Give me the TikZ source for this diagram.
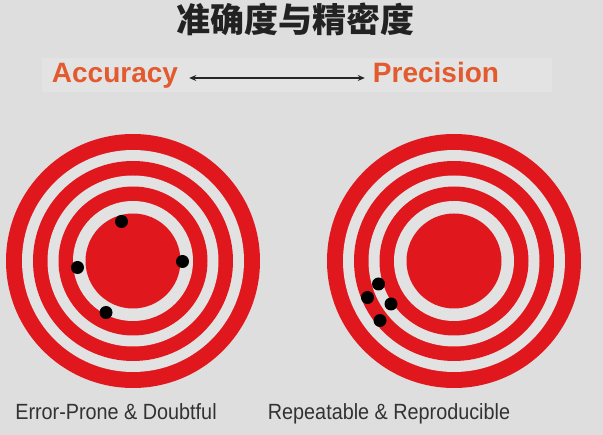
\documentclass[tikz,border=0pt]{standalone}
\usepackage{fontspec}
\usepackage{graphicx}
\setmainfont{Liberation Sans}
\newfontfamily\cjk{Noto Sans CJK SC}
\usetikzlibrary{arrows.meta}
\definecolor{bgc}{RGB}{222,222,222}
\definecolor{bandc}{RGB}{227,227,227}
\definecolor{ringred}{RGB}{224,24,30}
\definecolor{ringgap}{RGB}{226,226,226}
\definecolor{hdr}{RGB}{226,90,45}
\definecolor{ttl}{RGB}{34,34,34}
\definecolor{lbl}{RGB}{50,50,50}
\tikzset{
  redring/.style={fill=ringred, draw=none},
  gapring/.style={fill=ringgap, draw=none},
  hit/.style={fill=black, draw=none},
  header/.style={font=\fontsize{28}{30}\selectfont\bfseries, text=hdr, inner sep=0pt, anchor=base},
  caption/.style={font=\fontsize{22}{24}\selectfont, text=lbl, inner sep=0pt, anchor=base},
  twoway/.style={{Stealth[length=7pt,width=6pt]}-{Stealth[length=7pt,width=6pt]}, line width=2.2pt, draw=black!85}
}
\newcommand{\target}[2]{%
  \fill[redring] (#1,#2) circle (127);
  \fill[gapring] (#1,#2) circle (111);
  \fill[redring] (#1,#2) circle (100);
  \fill[gapring] (#1,#2) circle (85.5);
  \fill[redring] (#1,#2) circle (74.5);
  \fill[gapring] (#1,#2) circle (60);
  \fill[redring] (#1,#2) circle (47.5);
}
\begin{document}
\begin{tikzpicture}[x=1pt,y=-1pt]
  \fill[bgc] (0,0) rectangle (603,435);
  \useasboundingbox (0,0) rectangle (603,435);
  \fill[bandc] (42,58) rectangle (552,92);
  \node[font=\fontsize{34}{36}\selectfont\cjk\bfseries, text=ttl, inner sep=0pt] (title) at (295,19) {准确度与精密度};
  \node[header] (acc) at (115,83) {Accuracy};
  \node[header] (prec) at (436,83) {Precision};
  \draw[twoway] ([yshift=5pt,xshift=11pt]acc.base east) -- ([yshift=5pt,xshift=-8pt]prec.base west);
  \target{133}{261}
  \target{454}{261}
  \fill[hit] (121.5,221.5) circle (6.5);
  \fill[hit] (77.5,267.5) circle (6.5);
  \fill[hit] (182.5,261.5) circle (6.5);
  \fill[hit] (106,312.5) circle (6.5);
  \fill[hit] (378.5,284) circle (6.5);
  \fill[hit] (367.5,297.5) circle (6.5);
  \fill[hit] (391,304) circle (6.5);
  \fill[hit] (380,320.5) circle (6.5);
  \node[caption] (lcap) at (116,420) {\scalebox{0.9}[1]{Error-Prone \& Doubtful}};
  \node[caption] (rcap) at (389,420) {\scalebox{0.9}[1]{Repeatable \& Reproducible}};
\end{tikzpicture}
\end{document}
